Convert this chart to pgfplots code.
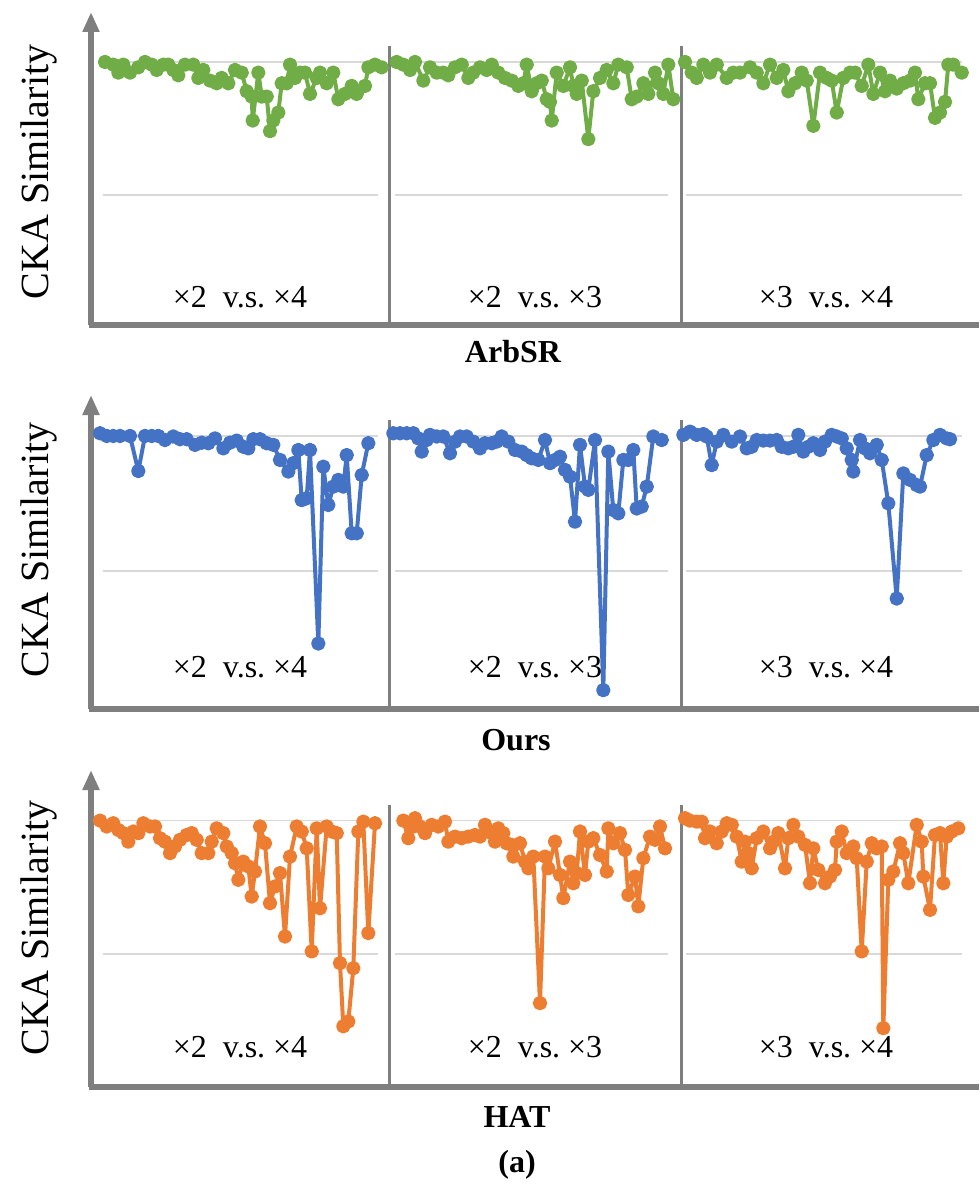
\documentclass[border=0pt]{standalone}
\usepackage{fontspec}
\setmainfont{Liberation Serif}
\usepackage{pgfplots}
\pgfplotsset{compat=1.18}
\usetikzlibrary{arrows.meta}

\definecolor{grn}{HTML}{70AD47}
\definecolor{blu}{HTML}{4472C4}
\definecolor{org}{HTML}{ED7D31}
\definecolor{axc}{HTML}{7F7F7F}
\definecolor{gridc}{HTML}{D9D9D9}

% x runs in reference pixels, one row of three panels per axis
\pgfplotsset{
  rowaxis/.style={scale only axis, width=444pt, xmin=91, xmax=979,
    axis line style={draw=none}, ticks=none, clip=false, anchor=south west},
  cka/.style={color=#1, line width=2pt, line join=round, line cap=round,
    mark=*, mark size=2.6pt, mark options={solid, fill=#1}},
}

% grid segments, panel separators and the two axis lines
\newcommand\rowframe[2]{%
  \draw[gridc, line width=0.8pt] (axis cs:103,1) -- (axis cs:378,1);
  \draw[gridc, line width=0.8pt] (axis cs:395,1) -- (axis cs:668,1);
  \draw[gridc, line width=0.8pt] (axis cs:686,1) -- (axis cs:962,1);
  \draw[gridc, line width=0.8pt] (axis cs:103,0.5) -- (axis cs:378,0.5);
  \draw[gridc, line width=0.8pt] (axis cs:395,0.5) -- (axis cs:668,0.5);
  \draw[gridc, line width=0.8pt] (axis cs:686,0.5) -- (axis cs:962,0.5);
  \draw[axc, line width=1.5pt] (axis cs:389,#1) -- (axis cs:389,1.06);
  \draw[axc, line width=1.5pt] (axis cs:681,#1) -- (axis cs:681,1.06);
  \draw[axc, line width=2.7pt] (axis cs:89,#1) -- (axis cs:979,#1);
  \draw[axc, line width=2.7pt, -{Triangle[width=8pt,length=10pt]}] (axis cs:91,#1) -- (axis cs:91,#2);
}

\begin{document}
\begin{tikzpicture}
\path[use as bounding box] (0pt,0pt) rectangle (489.5pt,-596pt);

% ---------------- ArbSR ----------------
\begin{axis}[rowaxis, at={(45.5pt,-162.5pt)}, height=156.5pt, ymin=0.011, ymax=1.188]
  \rowframe{0.011}{1.188}
  \addplot[cka=grn] coordinates {(105,1.00) (113.3,0.99) (118.3,0.96) (123.3,0.99) (130,0.96) (138.3,0.98) (145,1.00) (151.7,0.99) (156.7,0.97) (163.3,0.99) (168.3,0.99) (173.3,0.97) (178.3,0.95) (185,0.99) (193.3,0.99) (198.3,0.94) (203.3,0.97) (210,0.93) (216.7,0.92) (221.7,0.94) (228.3,0.92) (235,0.97) (241.7,0.96) (246.7,0.89) (251.7,0.87) (252.7,0.78) (258.3,0.96) (261.7,0.87) (266.7,0.87) (270,0.74) (273.3,0.78) (278.3,0.81) (281.7,0.92) (286.7,0.92) (290,0.99) (295,0.94) (300,0.96) (305,0.96) (310,0.88) (316.7,0.94) (320,0.96) (326.7,0.92) (333.3,0.96) (338.3,0.86) (345,0.88) (351.7,0.91) (356.7,0.88) (365,0.91) (368.3,0.98) (375,0.99) (381.7,0.98)};
  \addplot[cka=grn] coordinates {(396.7,1.00) (403.3,0.99) (410,0.97) (415,1.00) (423.3,0.93) (430,0.98) (436.7,0.96) (443.3,0.96) (448.3,0.95) (455,0.98) (461.7,0.99) (468.3,0.94) (473.3,0.96) (480,0.98) (486.7,0.97) (491.7,0.99) (498.3,0.96) (505,0.94) (511.7,0.93) (518.3,0.91) (523.3,0.92) (526.7,0.99) (531.7,0.89) (536.7,0.92) (541.7,0.93) (546.7,0.86) (550,0.85) (551.7,0.78) (556.7,0.96) (563.3,0.91) (570,0.98) (573.3,0.91) (576.7,0.88) (581.7,0.93) (588.3,0.71) (593.3,0.89) (600,0.94) (606.7,0.97) (613.3,0.92) (618.3,0.99) (626.7,0.98) (631.7,0.86) (636.7,0.87) (643.3,0.92) (648.3,0.88) (655,0.96) (658.3,0.92) (663.3,0.88) (668.3,0.99) (673.3,0.86)};
  \addplot[cka=grn] coordinates {(685,1.00) (691.7,0.96) (696.7,0.94) (703.3,0.99) (710,0.96) (716.7,0.99) (726.7,0.94) (733.3,0.96) (740,0.96) (750,0.98) (756.7,0.96) (763.3,0.92) (770,0.99) (776.7,0.94) (783.3,0.97) (788.3,0.89) (795,0.92) (801.7,0.96) (806.7,0.93) (813.3,0.76) (820,0.96) (826.7,0.94) (831.7,0.93) (836.7,0.81) (843.3,0.94) (850,0.96) (855,0.96) (861.7,0.91) (868.3,0.99) (873.3,0.88) (880,0.96) (885,0.89) (890,0.93) (896.7,0.90) (903.3,0.92) (910,0.93) (915,0.96) (918.3,0.86) (925,0.92) (930,0.92) (935,0.79) (940,0.81) (945,0.85) (948.3,0.99) (953.3,0.99) (961.7,0.96)};
\end{axis}

% ---------------- Ours ----------------
\begin{axis}[rowaxis, at={(45.5pt,-354.5pt)}, height=157pt, ymin=-0.013, ymax=1.152]
  \rowframe{-0.013}{1.152}
  \addplot[cka=blu] coordinates {(100,1.01) (106.7,1.00) (113.3,1.00) (120,1.00) (130,1.00) (138.3,0.87) (145,1.00) (151.7,1.00) (158.3,1.00) (165,0.985) (173.3,0.998) (180,0.988) (186.7,0.988) (195,0.967) (201.7,0.975) (208.3,0.973) (215,0.991) (223.3,0.954) (230,0.975) (236.7,0.983) (243.3,0.96) (248.3,0.954) (253.3,0.988) (260,0.988) (266.7,0.973) (273.3,0.967) (280,0.911) (288.3,0.868) (293.3,0.899) (298.3,0.948) (301.7,0.762) (306.7,0.769) (310,0.948) (318.3,0.23) (323.3,0.886) (328.3,0.744) (333.3,0.812) (338.3,0.837) (343.3,0.812) (346.7,0.929) (351.7,0.639) (356.7,0.639) (361.7,0.855) (368.3,0.973)};
  \addplot[cka=blu] coordinates {(393.3,1.01) (400,1.01) (406.7,1.01) (413.3,1.01) (418.3,0.991) (421.7,0.942) (426.7,0.985) (430,1.004) (436.7,0.998) (443.3,0.998) (450,0.936) (455,0.979) (460,0.998) (466.7,0.998) (473.3,0.979) (480,0.954) (485,0.973) (491.7,0.973) (496.7,0.979) (501.7,0.998) (508.3,0.979) (515,0.948) (521.7,0.942) (526.7,0.929) (531.7,0.917) (538.3,0.911) (545,0.985) (550,0.899) (555,0.911) (560,0.923) (565,0.874) (570,0.849) (575,0.682) (580,0.967) (585,0.812) (588.3,0.80) (595,0.985) (603.3,0.057) (608.3,0.942) (613.3,0.725) (618.3,0.713) (623.3,0.911) (628.3,0.911) (633.3,0.948) (636.7,0.731) (641.7,0.738) (646.7,0.812) (653.3,0.998) (661.7,0.985)};
  \addplot[cka=blu] coordinates {(683.3,1.004) (690,1.016) (696.7,1.004) (703.3,1.007) (706.7,0.998) (711.7,0.892) (716.7,0.979) (723.3,1.004) (731.7,0.979) (740,0.998) (746.7,0.954) (751.7,0.96) (756.7,0.985) (763.3,0.983) (770,0.983) (776.7,0.985) (781.7,0.96) (788.3,0.954) (793.3,0.96) (798.3,1.004) (803.3,0.942) (808.3,0.96) (813.3,0.973) (820,0.948) (825,0.979) (831.7,1.004) (836.7,0.998) (841.7,0.991) (846.7,0.954) (851.7,0.911) (853.3,0.868) (860,0.985) (865,0.954) (870,0.936) (876.7,0.967) (881.7,0.911) (888.3,0.75) (896.7,0.397) (903.3,0.861) (910,0.837) (916.7,0.818) (920,0.812) (926.7,0.929) (933.3,0.985) (940,1.004) (946.7,0.991) (950,0.988)};
\end{axis}

% ---------------- HAT ----------------
\begin{axis}[rowaxis, at={(45.5pt,-543.5pt)}, height=158.5pt, ymin=0, ymax=1.19]
  \rowframe{0}{1.19}
  \addplot[cka=org] coordinates {(100,1.0) (106.7,0.978) (113.3,0.99) (118.3,0.965) (123.3,0.953) (128.3,0.921) (133.3,0.959) (138.3,0.953) (143.3,0.99) (150,0.978) (155,0.978) (160,0.934) (165,0.921) (170,0.878) (175,0.903) (180,0.928) (186.7,0.946) (191.7,0.953) (196.7,0.928) (201.7,0.878) (208.3,0.878) (211.7,0.921) (216.7,0.971) (223.3,0.953) (226.7,0.903) (231.7,0.878) (235,0.84) (238.3,0.778) (243.3,0.846) (248.3,0.828) (251.7,0.715) (255,0.809) (260,0.978) (265,0.915) (270,0.69) (275,0.753) (280,0.803) (285,0.565) (290,0.865) (296.7,0.978) (301.7,0.959) (306.7,0.896) (311.7,0.509) (316.7,0.971) (320,0.671) (326.7,0.978) (331.7,0.959) (336.7,0.953) (340,0.465) (343.3,0.228) (348.3,0.246) (353.3,0.446) (358.3,0.959) (363.3,0.996) (368.3,0.578) (375,0.99)};
  \addplot[cka=org] coordinates {(403.3,1.0) (408.3,0.934) (413.3,0.978) (415,1.009) (420,0.978) (425,0.953) (431.7,0.984) (438.3,0.978) (445,0.996) (448.3,0.921) (455,0.94) (461.7,0.934) (468.3,0.94) (475,0.946) (480,0.94) (485,0.984) (491.7,0.953) (495,0.921) (498.3,0.971) (503.3,0.953) (506.7,0.915) (511.7,0.909) (513.3,0.865) (520,0.915) (525,0.846) (528.3,0.821) (533.3,0.865) (540,0.315) (545,0.865) (548.3,0.821) (555,0.921) (560,0.796) (563.3,0.709) (570,0.846) (573.3,0.765) (576.7,0.803) (580,0.959) (585,0.796) (588.3,0.921) (593.3,0.934) (600,0.871) (606.7,0.809) (608.3,0.971) (613.3,0.915) (620,0.953) (625,0.89) (628.3,0.721) (635,0.79) (638.3,0.678) (643.3,0.859) (650,0.94) (655,0.928) (660,0.978) (665,0.896)};
  \addplot[cka=org] coordinates {(685,1.009) (690,1.0) (696.7,0.996) (701.7,0.996) (705,0.934) (710,0.959) (716.7,0.915) (721.7,0.959) (726.7,0.99) (731.7,0.984) (736.7,0.94) (741.7,0.846) (745,0.921) (748.3,0.878) (751.7,0.821) (756.7,0.934) (763.3,0.959) (770,0.896) (773.3,0.921) (778.3,0.953) (785,0.821) (788.3,0.934) (793.3,0.984) (798.3,0.94) (805,0.909) (810,0.765) (813.3,0.896) (818.3,0.815) (825,0.765) (830,0.79) (835,0.815) (836.7,0.921) (841.7,0.959) (846.7,0.878) (853.3,0.903) (856.7,0.859) (861.7,0.509) (866.7,0.846) (871.7,0.915) (876.7,0.896) (881.7,0.903) (883.3,0.221) (888.3,0.778) (893.3,0.809) (900,0.915) (903.3,0.878) (908.3,0.765) (916.7,0.984) (921.7,0.921) (923.3,0.79) (930,0.665) (935,0.946) (940,0.953) (943.3,0.765) (946.7,0.94) (951.7,0.959) (958.3,0.971)};
\end{axis}

% ---------------- texts ----------------
\foreach \yy in {86,275,464}
  \node[rotate=90, font=\fontsize{20}{24}\selectfont] at (19.5pt,-\yy pt) {CKA Similarity};
\foreach \yy in {148.5,333.5,523.5} {
  \node[font=\fontsize{16}{19}\selectfont] at (120pt,-\yy pt) {×2\hspace{8pt}v.s.\hspace{4pt}×4};
  \node[font=\fontsize{16}{19}\selectfont] at (267.5pt,-\yy pt) {×2\hspace{8pt}v.s.\hspace{4pt}×3};
  \node[font=\fontsize{16}{19}\selectfont] at (413pt,-\yy pt) {×3\hspace{8pt}v.s.\hspace{4pt}×4};
}
\node[font=\fontsize{16}{19}\selectfont\bfseries] at (256.5pt,-176pt) {ArbSR};
\node[font=\fontsize{16}{19}\selectfont\bfseries] at (258pt,-370pt) {Ours};
\node[font=\fontsize{16}{19}\selectfont\bfseries] at (258.5pt,-558.5pt) {HAT};
\node[font=\fontsize{16}{19}\selectfont\bfseries] at (258.5pt,-582.5pt) {(a)};
\end{tikzpicture}
\end{document}
